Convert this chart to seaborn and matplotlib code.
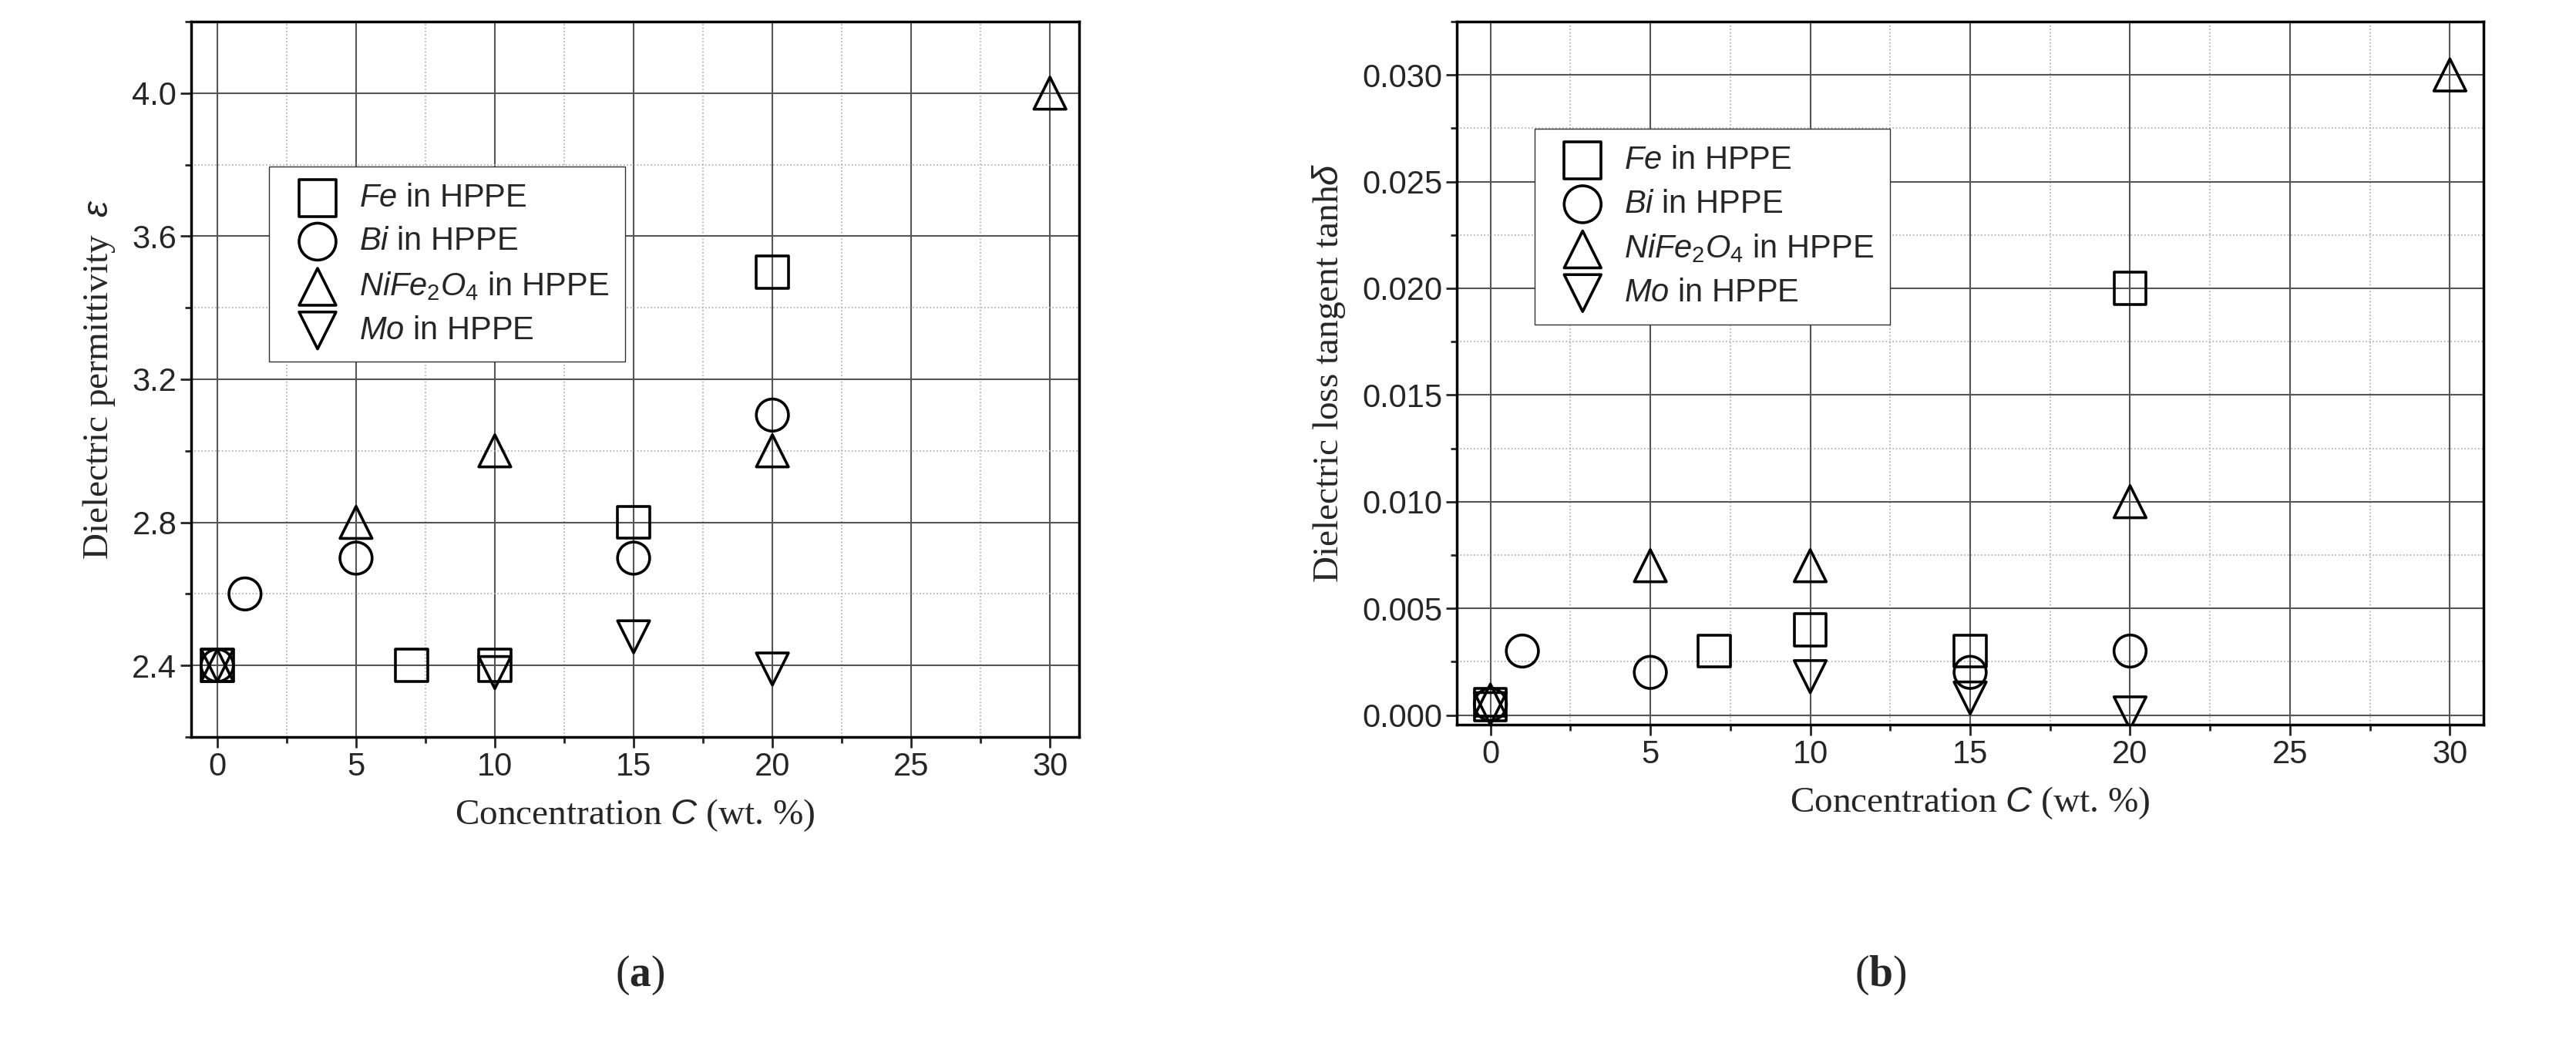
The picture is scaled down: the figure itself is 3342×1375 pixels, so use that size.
import matplotlib
matplotlib.use("Agg")
import matplotlib.pyplot as plt
import seaborn as sns
import pandas as pd
from matplotlib.ticker import MultipleLocator

sns.set_style("white")
plt.rcParams['font.family'] = ['Liberation Sans', 'DejaVu Sans']
plt.rcParams['mathtext.fontset'] = 'custom'
plt.rcParams['mathtext.it'] = 'Liberation Sans:italic'
plt.rcParams['mathtext.rm'] = 'Liberation Sans'
plt.rcParams['mathtext.bf'] = 'Liberation Serif:bold'

labels = [r'$\it{Fe}$ in HPPE', r'$\it{Bi}$ in HPPE', r'$\it{NiFe_2O_4}$ in HPPE', r'$\it{Mo}$ in HPPE']
markers = ['s', 'o', '^', 'v']

# (a) permittivity
fe_c_a = [0, 7, 10, 15, 20];   fe_a = [2.4, 2.4, 2.4, 2.8, 3.5]
bi_c_a = [0, 1, 5, 15, 20];    bi_a = [2.4, 2.6, 2.7, 2.7, 3.1]
ni_c_a = [0, 5, 10, 20, 30];   ni_a = [2.4, 2.8, 3.0, 3.0, 4.0]
mo_c_a = [0, 10, 15, 20];      mo_a = [2.4, 2.38, 2.48, 2.39]

# (b) loss tangent
fe_c_b = [0, 7, 10, 15, 20];   fe_b = [0.0005, 0.003, 0.004, 0.003, 0.020]
bi_c_b = [0, 1, 5, 15, 20];    bi_b = [0.0005, 0.003, 0.002, 0.002, 0.003]
ni_c_b = [0, 5, 10, 20, 30];   ni_b = [0.0007, 0.007, 0.007, 0.010, 0.030]
mo_c_b = [0, 10, 15, 20];      mo_b = [0.0003, 0.0018, 0.0008, 0.0001]

fig = plt.figure(figsize=(33.42, 13.75), dpi=100)
axa = fig.add_axes([248/3342, 1-956/1375, (1400-248)/3342, (956-28)/1375])
axb = fig.add_axes([1890/3342, 1-940/1375, (3222-1890)/3342, (940-28)/1375])

def draw(ax, sets):
    for (cx, vy), m, lab in zip(sets, markers, labels):
        sns.scatterplot(x=cx, y=vy, ax=ax, marker=m, s=900, facecolor='none',
                        edgecolor='black', linewidth=2.6, label=lab, zorder=3)
    ax.xaxis.set_major_locator(MultipleLocator(5))
    ax.xaxis.set_minor_locator(MultipleLocator(2.5))
    ax.grid(which='major', color='#555555', linewidth=1.5)
    ax.grid(which='minor', color='#aaaaaa', linestyle=':', linewidth=1.2)
    ax.tick_params(which='both', direction='out', length=10, width=2, labelsize=30, bottom=True, left=True)
    ax.tick_params(which='minor', length=6)
    for s in ax.spines.values():
        s.set_linewidth(2.5); s.set_color('black')
    ax.set_xlabel('Concentration $\\mathit{C}$ (wt. %)', family='Liberation Serif', fontsize=34, labelpad=14)

legkw = dict(loc='upper left', fontsize=30, frameon=True, fancybox=False, markerscale=1.15,
             edgecolor='#333333', handletextpad=0.3, borderpad=0.5, labelspacing=0.4, framealpha=1)

draw(axa, [(fe_c_a, fe_a), (bi_c_a, bi_a), (ni_c_a, ni_a), (mo_c_a, mo_a)])
axa.set_xlim(-0.94, 31.05); axa.set_ylim(2.2, 4.2)
axa.yaxis.set_major_locator(MultipleLocator(0.4))
axa.yaxis.set_minor_locator(MultipleLocator(0.2))
axa.set_ylabel('Dielectric permittivity  $\\varepsilon$', family='Liberation Serif', fontsize=34, labelpad=14)
axa.legend(bbox_to_anchor=(0.07, 0.82), **legkw)

draw(axb, [(fe_c_b, fe_b), (bi_c_b, bi_b), (ni_c_b, ni_b), (mo_c_b, mo_b)])
axb.set_xlim(-1.05, 31.05); axb.set_ylim(-0.00045, 0.0325)
axb.yaxis.set_major_locator(MultipleLocator(0.005))
axb.yaxis.set_minor_locator(MultipleLocator(0.0025))
axb.yaxis.set_major_formatter(matplotlib.ticker.FormatStrFormatter('%.3f'))
axb.set_ylabel('Dielectric loss tangent tanh$\\delta$', family='Liberation Serif', fontsize=34, labelpad=14)
axb.legend(bbox_to_anchor=(0.06, 0.87), **legkw)

fig.text(830/3342, 1-1265/1375, r'($\mathbf{a}$)', family='Liberation Serif', fontsize=40, ha='center', va='center')
fig.text(2440/3342, 1-1265/1375, r'($\mathbf{b}$)', family='Liberation Serif', fontsize=40, ha='center', va='center')

fig.savefig('out.png', dpi=100)
